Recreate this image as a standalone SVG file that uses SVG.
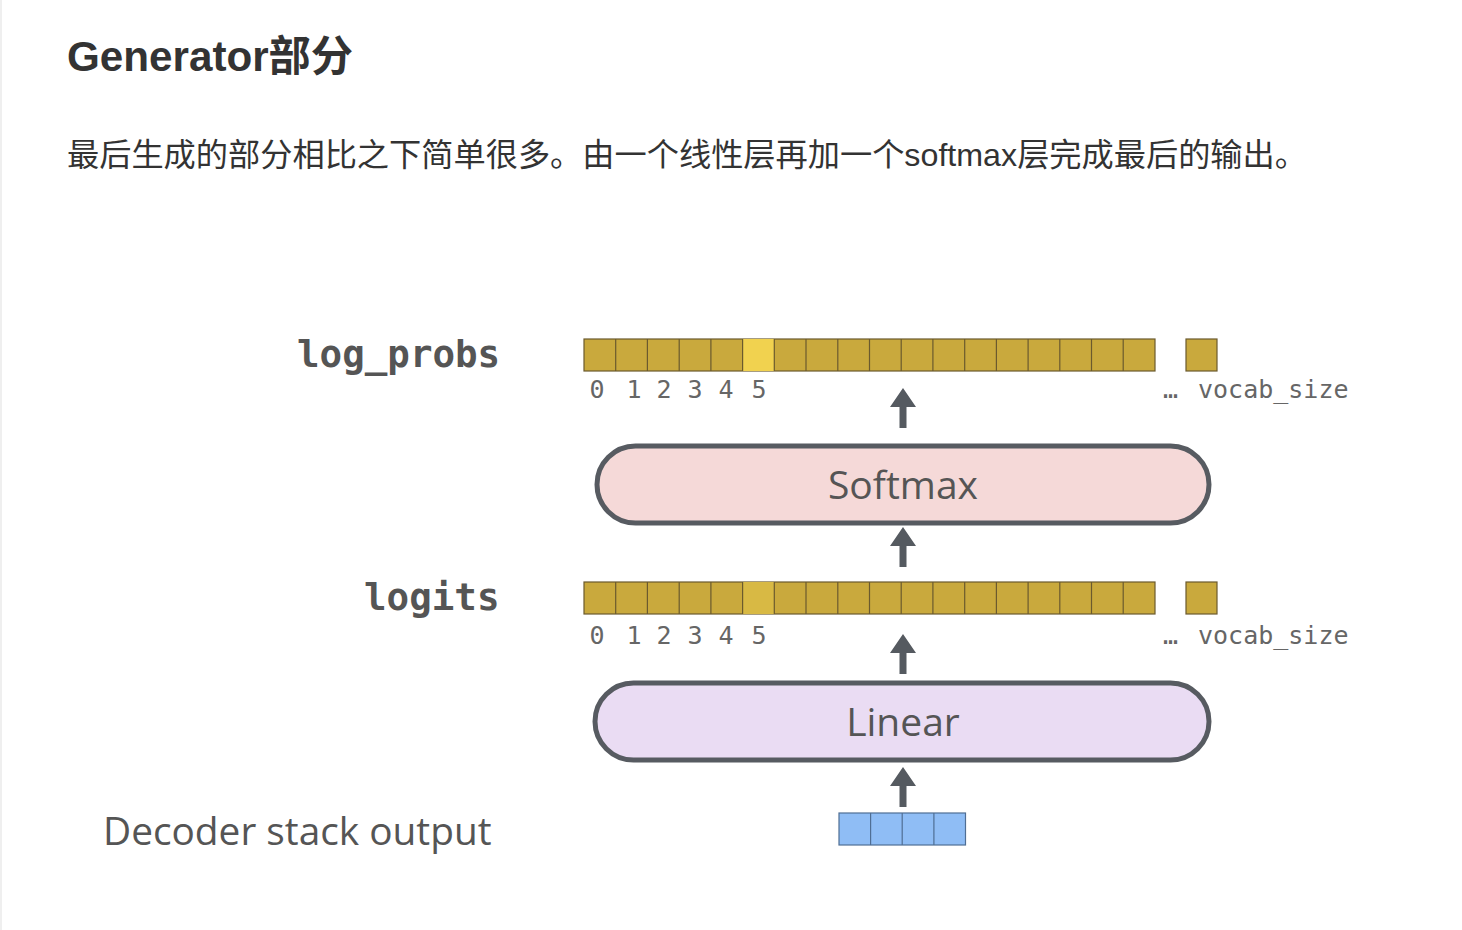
<svg xmlns="http://www.w3.org/2000/svg" width="1462" height="930" viewBox="0 0 1462 930">
<style>
.title{font-family:"Liberation Sans","Noto Sans CJK SC",sans-serif;font-weight:bold;font-size:42px;fill:#333}
.para{font-family:"Liberation Sans","Noto Sans CJK SC",sans-serif;font-size:32px;fill:#333}
.lbl{font-family:"DejaVu Sans Mono",monospace;font-weight:bold;font-size:37.5px;fill:#555}
.idx{font-family:"DejaVu Sans Mono",monospace;font-size:25px;fill:#666;text-anchor:middle}
.voc{font-family:"DejaVu Sans Mono",monospace;font-size:25px;fill:#666}
.box{stroke:#575b61;stroke-width:5}
.boxt{font-family:"Open Sans","Noto Sans",sans-serif;font-size:39px;fill:#555;text-anchor:middle}
.dec{font-family:"Open Sans","Noto Sans",sans-serif;font-size:38.8px;fill:#555}
.cell{fill:#c9a93d;stroke:#6b5a2e;stroke-width:1.2}
.blue{fill:#8fbdf5;stroke:#4f6e94;stroke-width:1.2}
.arrow{fill:#555a60}
</style>
<defs>
<path id="arr" d="M0,0 L13,19 L3.5,19 L3.5,40 L-3.5,40 L-3.5,19 L-13,19 Z"/>
</defs>
<rect width="1462" height="930" fill="#ffffff"/>
<rect width="2" height="930" fill="#efefef"/>
<g id="heading">
<text class="title" x="67" y="71" textLength="286" lengthAdjust="spacingAndGlyphs">Generator部分</text>
<text class="para" x="67" y="166" textLength="1240" lengthAdjust="spacingAndGlyphs">最后生成的部分相比之下简单很多。由一个线性层再加一个softmax层完成最后的输出。</text>
</g>
<g id="log_probs">
<text class="lbl" x="297" y="367">log_probs</text>
<rect class="cell" x="584" y="339" width="571" height="32"/>
<rect x="742.6" y="339" width="31.7" height="32" fill="#f1d24f"/>
<path d="M615.7,339V371M647.4,339V371M679.2,339V371M710.9,339V371M742.6,339V371M774.3,339V371M806,339V371M837.8,339V371M869.5,339V371M901.2,339V371M932.9,339V371M964.7,339V371M996.4,339V371M1028.1,339V371M1059.8,339V371M1091.5,339V371M1123.2,339V371" stroke="#6b5a2e" stroke-width="1.2"/>
<rect class="cell" x="1186" y="339" width="31" height="32"/>
<text class="idx" x="597" y="398">0</text><text class="idx" x="634" y="398">1</text><text class="idx" x="664" y="398">2</text><text class="idx" x="695" y="398">3</text><text class="idx" x="726" y="398">4</text><text class="idx" x="759" y="398">5</text>
<text class="voc" x="1163" y="398">…</text><text class="voc" x="1198" y="398">vocab_size</text>
</g>
<g id="softmax">
<rect class="box" x="597" y="446" width="612" height="77" rx="38.5" fill="#f5d9d8"/>
<text class="boxt" x="903" y="499">Softmax</text>
</g>
<g id="logits">
<text class="lbl" x="364" y="610">logits</text>
<rect class="cell" x="584" y="582" width="571" height="32"/>
<rect x="742.6" y="582" width="31.7" height="32" fill="#d8b944"/>
<path d="M615.7,582V614M647.4,582V614M679.2,582V614M710.9,582V614M742.6,582V614M774.3,582V614M806,582V614M837.8,582V614M869.5,582V614M901.2,582V614M932.9,582V614M964.7,582V614M996.4,582V614M1028.1,582V614M1059.8,582V614M1091.5,582V614M1123.2,582V614" stroke="#6b5a2e" stroke-width="1.2"/>
<rect class="cell" x="1186" y="582" width="31" height="32"/>
<text class="idx" x="597" y="644">0</text><text class="idx" x="634" y="644">1</text><text class="idx" x="664" y="644">2</text><text class="idx" x="695" y="644">3</text><text class="idx" x="726" y="644">4</text><text class="idx" x="759" y="644">5</text>
<text class="voc" x="1163" y="644">…</text><text class="voc" x="1198" y="644">vocab_size</text>
</g>
<g id="linear">
<rect class="box" x="595" y="683" width="614" height="77" rx="38.5" fill="#eadcf3"/>
<text class="boxt" x="903" y="736">Linear</text>
</g>
<g id="decoder_output">
<text class="dec" x="103" y="845">Decoder stack output</text>
<rect class="blue" x="839" y="813" width="126.5" height="32"/>
<path d="M870.6,813V845M902.2,813V845M933.9,813V845" stroke="#4f6e94" stroke-width="1.2"/>
</g>
<g id="connectors" class="arrow">
<use href="#arr" x="903" y="388"/>
<use href="#arr" x="903" y="527"/>
<use href="#arr" x="903" y="634"/>
<use href="#arr" x="903" y="767"/>
</g>
</svg>
